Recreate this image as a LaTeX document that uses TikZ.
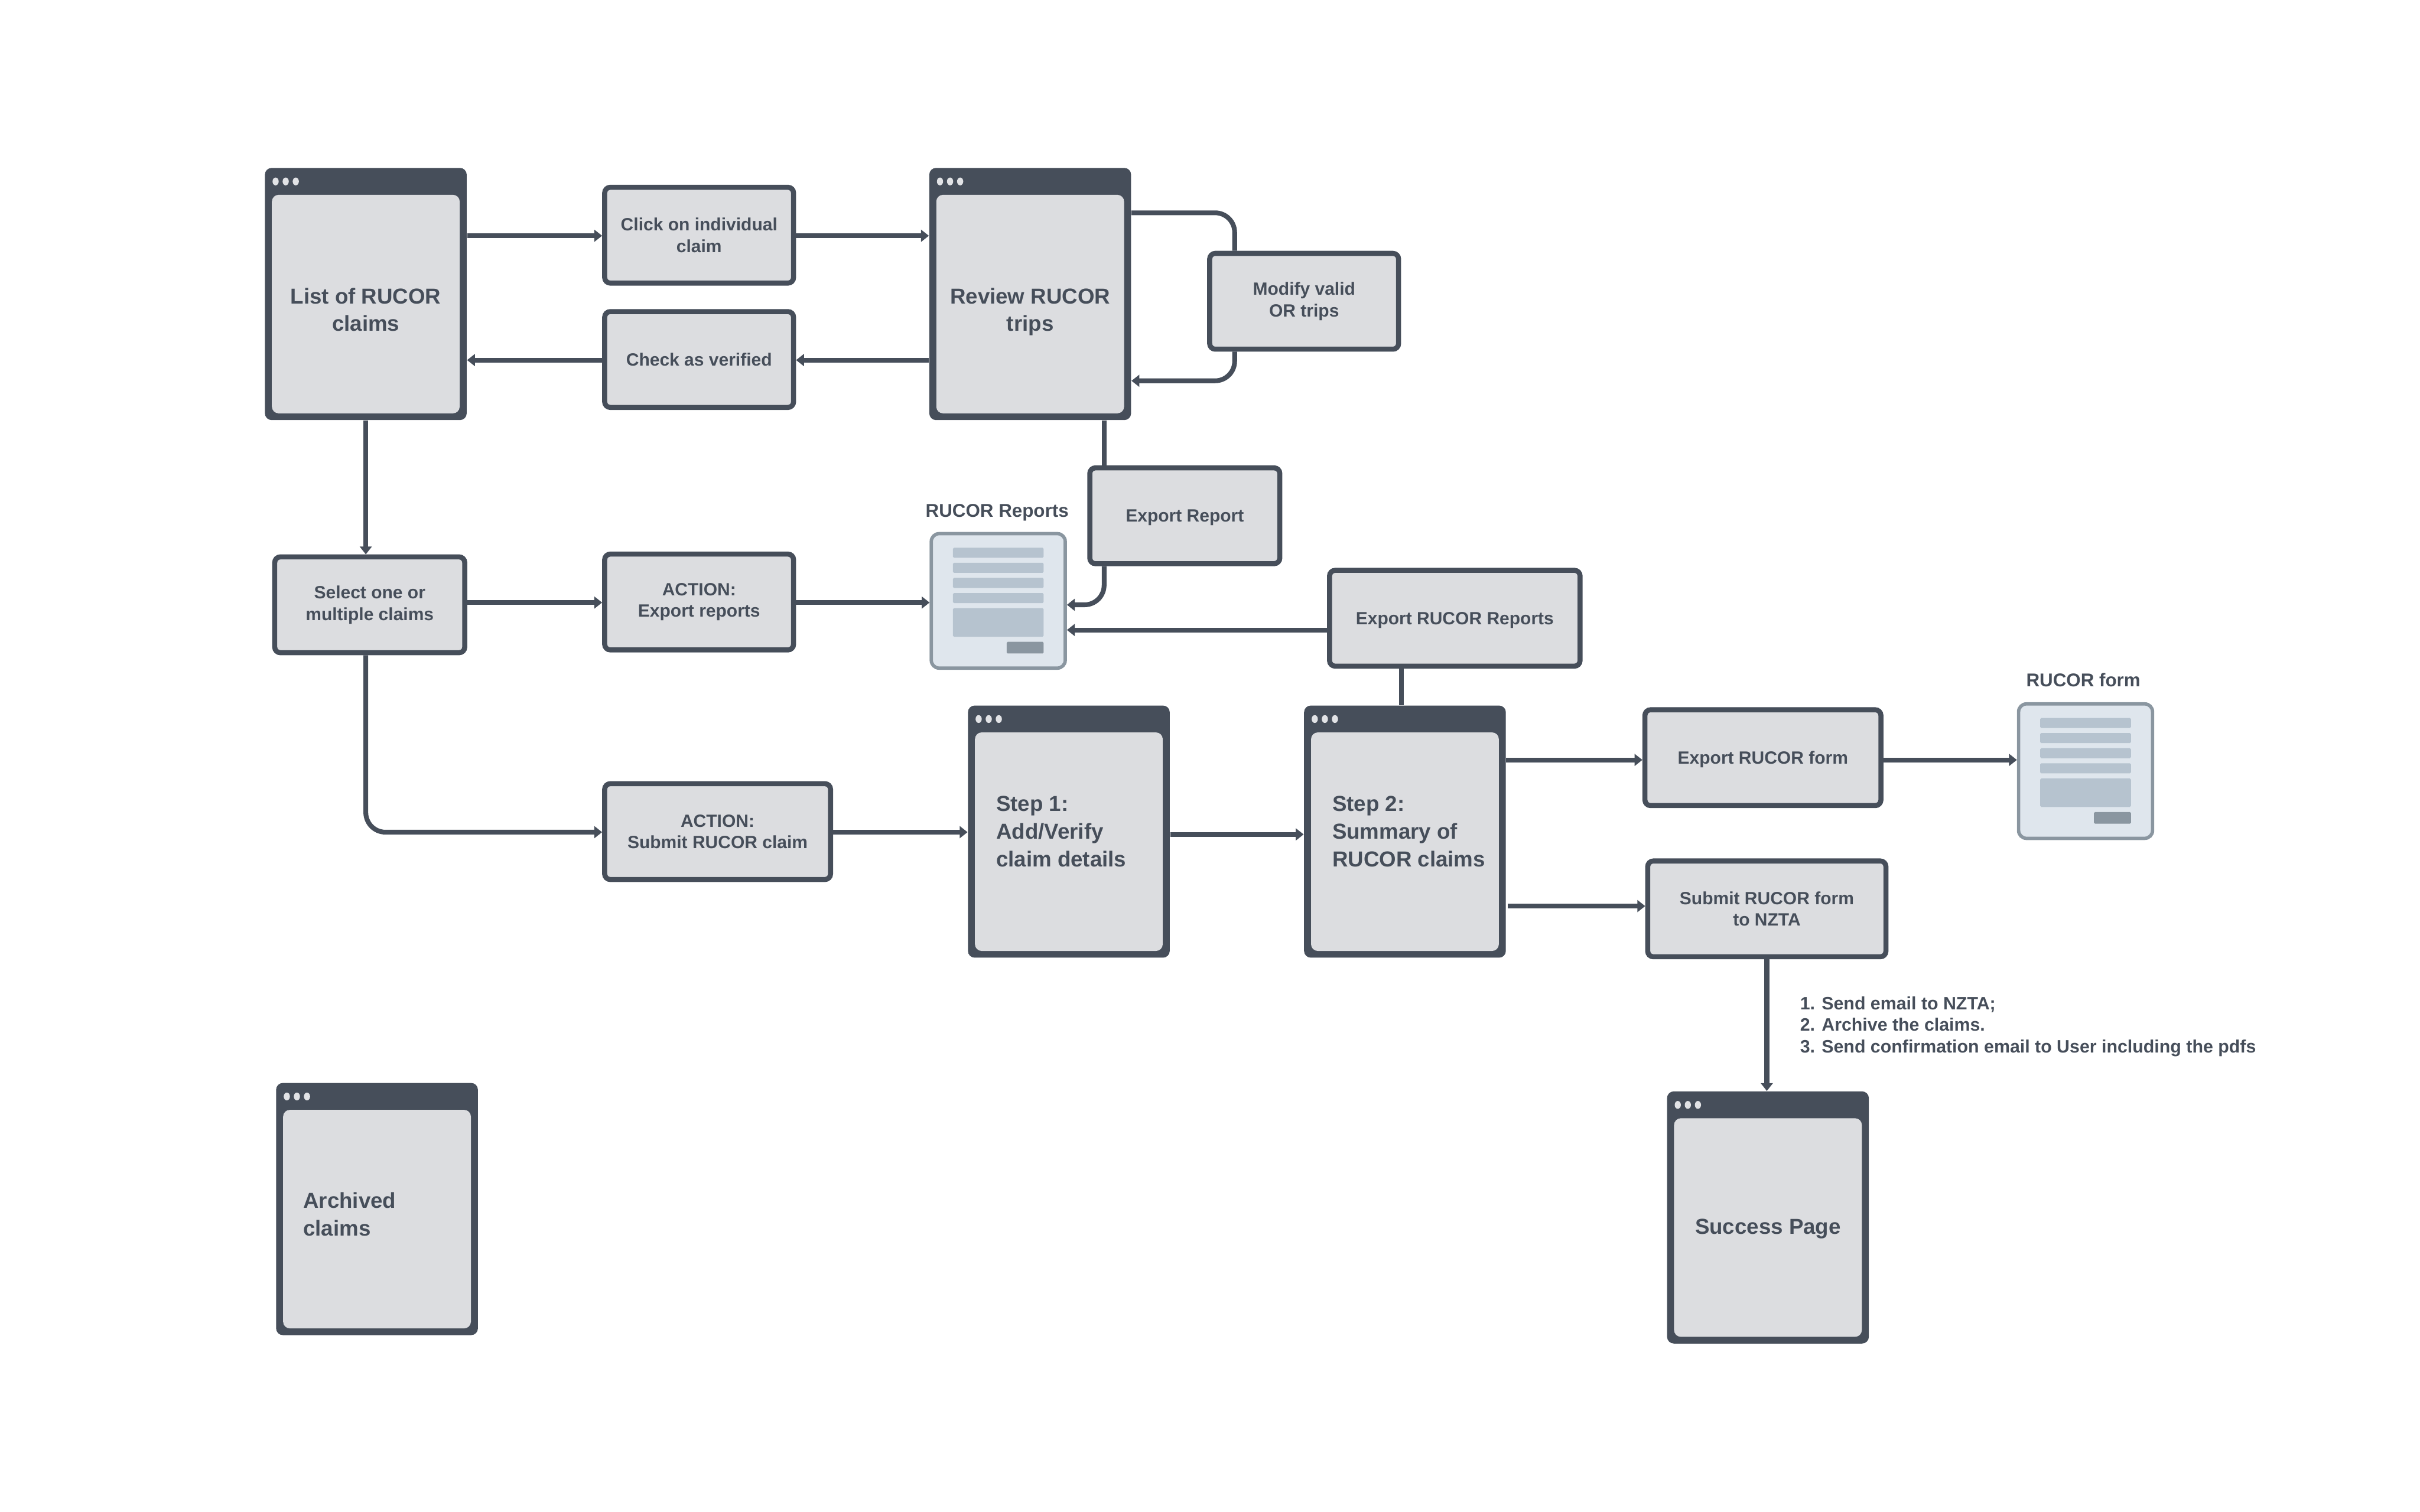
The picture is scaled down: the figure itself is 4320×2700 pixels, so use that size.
\documentclass[tikz,border=0pt]{standalone}
\usepackage{xcolor}
\usepackage{fontspec}
\setmainfont{Liberation Sans}
\usetikzlibrary{positioning,arrows.meta}
\definecolor{slate}{HTML}{464E5A}
\definecolor{panel}{HTML}{DCDDE0}
\definecolor{dotgray}{HTML}{E2E3E6}
\definecolor{docline}{HTML}{8A96A0}
\definecolor{docfill}{HTML}{DFE6ED}
\definecolor{docbar}{HTML}{B6C3CF}

\begin{document}
\begin{tikzpicture}[x=0.01cm, y=-0.01cm,
    every node/.style={font=\bfseries\fontsize{9}{11}\selectfont, text=slate, align=center},
    stepbox/.style={draw=slate, line width=0.09cm, fill=panel, rounded corners=0.1cm, minimum height=1.71cm},
    oneline/.style={text depth=0pt},
    winframe/.style={fill=slate, rounded corners=0.12cm, minimum width=3.6cm, minimum height=4.5cm},
    winbody/.style={fill=panel, rounded corners=0.12cm, minimum width=3.35cm, minimum height=3.9cm},
    wintext/.style={font=\bfseries\fontsize{11}{14}\selectfont},
    notetext/.style={font=\bfseries\fontsize{9.1}{11}\selectfont},
    docframe/.style={draw=docline, line width=0.06cm, fill=docfill, rounded corners=0.14cm, minimum width=2.39cm, minimum height=2.4cm},
    conn/.style={draw=slate, line width=0.085cm, -{Triangle[length=4pt, width=6pt]}},
    plainconn/.style={draw=slate, line width=0.085cm}]
    \useasboundingbox (0,0) rectangle (4320,2700);

    % Windows
    \foreach \name/\cx/\cy in {list/653/525, review/1839/525, stepa/1908/1485, stepb/2508/1485, success/3156/2174, archived/673/2159}{
        \node[winframe] (\name) at (\cx,\cy) {};
        \node[winbody] (\name body) at (\cx,\cy+18) {};
        \foreach \d in {-161,-143,-125}{
            \fill[dotgray] (\cx+\d,\cy-201) ellipse (0.055cm and 0.07cm);
        }
    }
    \node[wintext] (listtext) at (653,553) {List of RUCOR\\claims};
    \node[wintext] (reviewtext) at (1839,557) {Review RUCOR\\trips};
    \node[wintext, align=left, anchor=west] (stepatext) at (1766,1485) {Step 1:\\Add/Verify\\claim details};
    \node[wintext, align=left, anchor=west] (stepbtext) at (2366,1485) {Step 2:\\Summary of\\RUCOR claims};
    \node[wintext, oneline] (successtext) at (3156,2190) {Success Page};
    \node[wintext, align=left, anchor=west] (archivedtext) at (529,2168) {Archived\\claims};

    % Steps
    \node[stepbox, minimum width=3.37cm] (click) at (1248,420) {Click on individual\\claim};
    \node[stepbox, minimum width=3.37cm] (check) at (1248,642) {Check as verified};
    \node[stepbox, minimum width=3.37cm] (modify) at (2328,538) {Modify valid\\OR trips};
    \node[stepbox, oneline, minimum width=3.39cm] (exportreport) at (2115,921) {Export Report};
    \node[stepbox, minimum width=3.39cm] (select) at (660,1080) {Select one or\\multiple claims};
    \node[stepbox, minimum width=3.37cm] (actionexport) at (1248,1075) {ACTION:\\Export reports};
    \node[stepbox, minimum width=4.03cm] (actionsubmit) at (1281,1485) {ACTION:\\Submit RUCOR claim};
    \node[stepbox, oneline, minimum width=4.47cm] (exportreports) at (2597,1104) {Export RUCOR Reports};
    \node[stepbox, oneline, minimum width=4.21cm] (exportform) at (3147,1353) {Export RUCOR form};
    \node[stepbox, minimum width=4.25cm] (submitform) at (3154,1623) {Submit RUCOR form\\to NZTA};

    % Documents
    \foreach \name/\cx/\cy in {reports/1782/1073, form/3723/1377}{
        \node[docframe] (\name) at (\cx,\cy) {};
        \foreach \ya/\yb in {-95/-77, -68/-50, -41/-23, -14/4, 13/64}{
            \fill[docbar, rounded corners=0.02cm] (\cx-81,\cy+\ya) rectangle (\cx+81,\cy+\yb);
        }
        \fill[docline, rounded corners=0.02cm] (\cx+15,\cy+73) rectangle (\cx+81,\cy+94);
    }
    \node[notetext, font=\bfseries\fontsize{9.4}{11}\selectfont] (reportslabel) at (1780,915) {RUCOR Reports};
    \node[notetext, font=\bfseries\fontsize{9.4}{11}\selectfont] (formlabel) at (3719,1214) {RUCOR form};

    % Heights of the connectors
    \coordinate (rowclick) at (0,421);
    \coordinate (rowcheck) at (0,643);
    \coordinate (looptop) at (0,380);
    \coordinate (loopbot) at (0,680);
    \coordinate (loopcol) at (2204,0);
    \coordinate (reportcol) at (1971,0);
    \coordinate (rowexport) at (0,1076);
    \coordinate (rowtodoc) at (0,1125);
    \coordinate (rowreportin) at (0,1080);
    \coordinate (colreports) at (2502,0);
    \coordinate (rowsubmit) at (0,1486);
    \coordinate (rowstep) at (0,1490);
    \coordinate (rowform) at (0,1357);
    \coordinate (nztastart) at (2692,1618);
    \coordinate (colselect) at (653,0);

    % Connectors
    \draw[conn] (list.east |- rowclick) -- (click.west |- rowclick);
    \draw[conn] (click.east |- rowclick) -- (review.west |- rowclick);
    \draw[conn] (review.west |- rowcheck) -- (check.east |- rowcheck);
    \draw[conn] (check.west |- rowcheck) -- (list.east |- rowcheck);
    \draw[plainconn, rounded corners=0.35cm] (review.east |- looptop) -| (loopcol |- modify.north);
    \draw[conn, rounded corners=0.35cm] (loopcol |- modify.south) |- (review.east |- loopbot);
    \draw[plainconn] (reportcol |- review.south) -- (reportcol |- exportreport.north);
    \draw[conn, rounded corners=0.35cm] (reportcol |- exportreport.south) |- (reports.east |- rowreportin);
    \draw[conn] (list.south -| colselect) -- (colselect |- select.north);
    \draw[conn] (select.east |- rowexport) -- (actionexport.west |- rowexport);
    \draw[conn] (actionexport.east |- rowexport) -- (reports.west |- rowexport);
    \draw[conn] (exportreports.west |- rowtodoc) -- (reports.east |- rowtodoc);
    \draw[plainconn] (colreports |- exportreports.south) -- (colreports |- stepb.north);
    \draw[conn, rounded corners=0.35cm] (colselect |- select.south) |- (actionsubmit.west |- rowsubmit);
    \draw[conn] (actionsubmit.east |- rowsubmit) -- (stepa.west |- rowsubmit);
    \draw[conn] (stepa.east |- rowstep) -- (stepb.west |- rowstep);
    \draw[conn] (stepb.east |- rowform) -- (exportform.west |- rowform);
    \draw[conn] (exportform.east |- rowform) -- (form.west |- rowform);
    \draw[conn] (nztastart) -- (submitform.west |- nztastart);
    \draw[conn] (submitform.south) -- (submitform.south |- success.north);

    % Notes
    \node[notetext, align=left, anchor=west] (notes) at (3201,1833) {1. Send email to NZTA;\\2. Archive the claims.\\3. Send confirmation email to User including the pdfs};
\end{tikzpicture}
\end{document}
